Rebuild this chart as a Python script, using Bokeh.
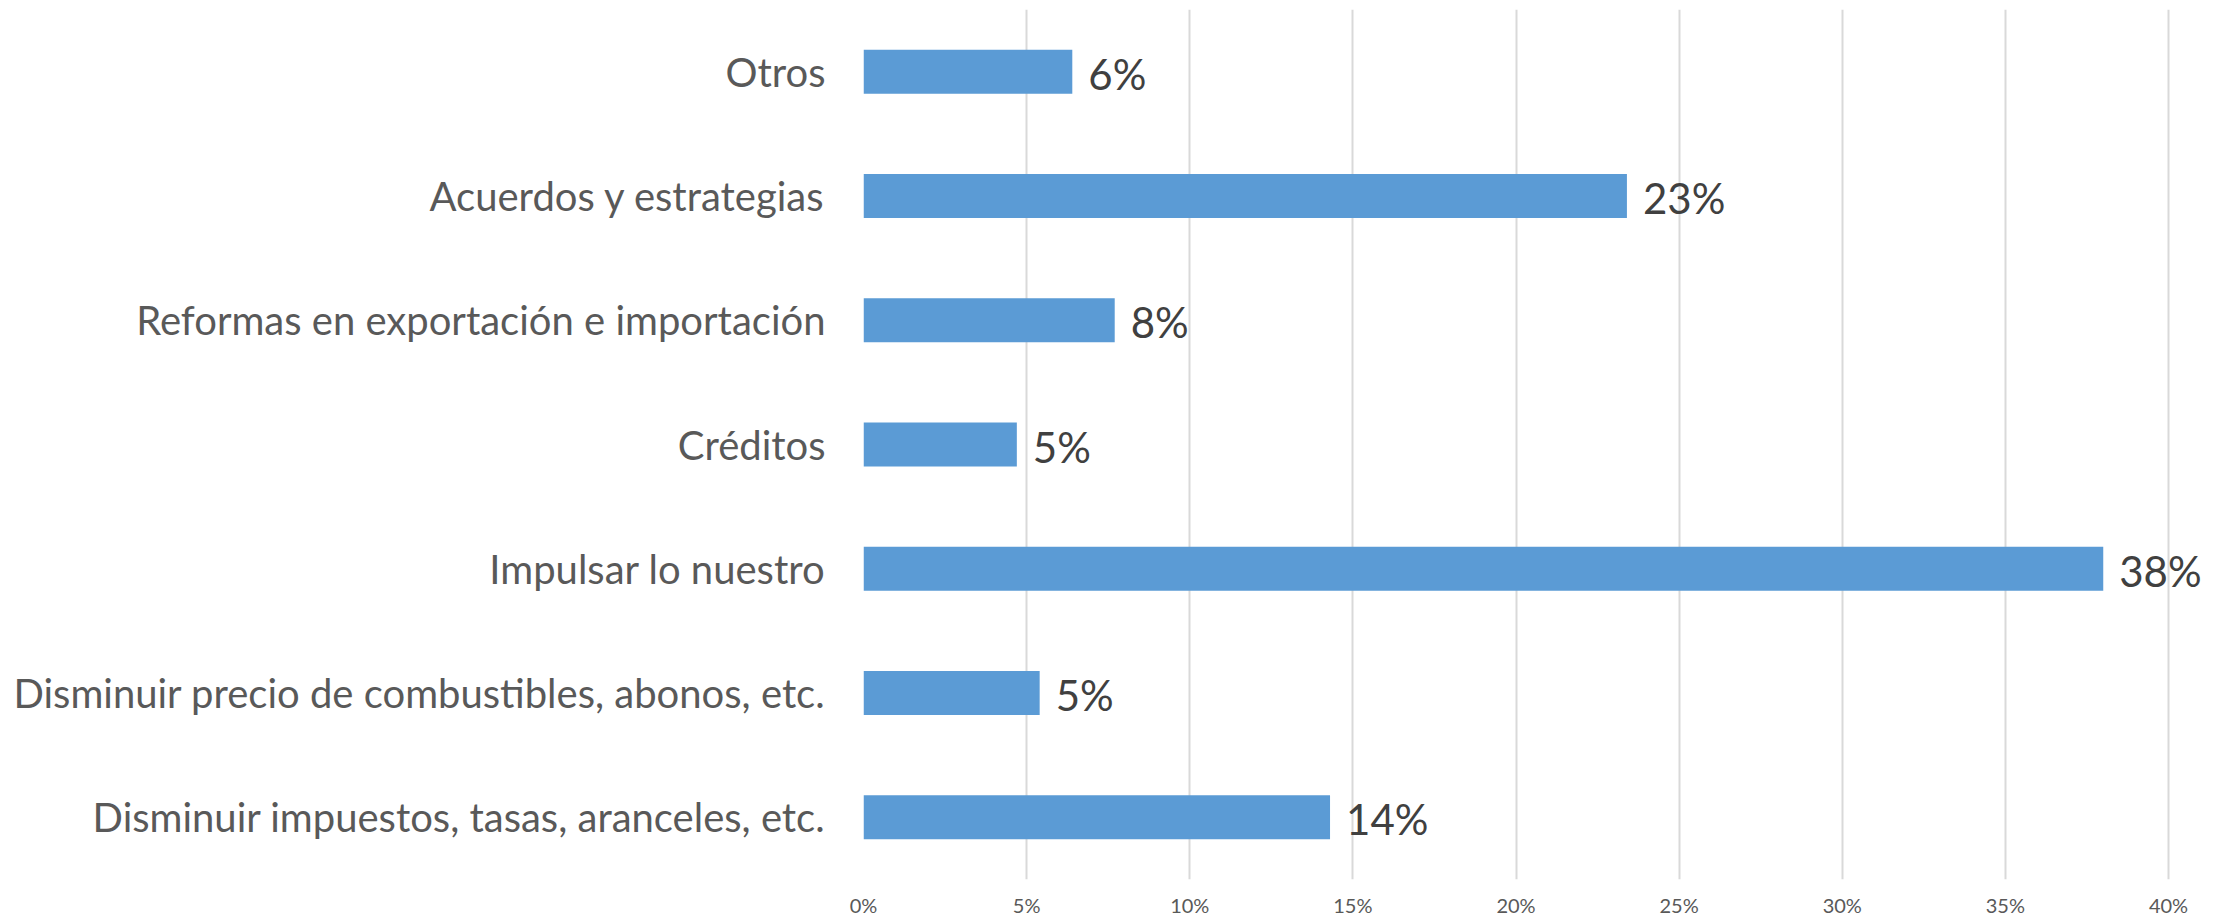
from bokeh.plotting import figure
from bokeh.models import ColumnDataSource, Range1d, FactorRange, FixedTicker, NumeralTickFormatter, LabelSet
from bokeh.core.properties import value
from bokeh.embed import file_html
from bokeh.resources import INLINE

# Data (bottom to top)
categories = [
    "Disminuir impuestos, tasas, aranceles, etc.",
    "Disminuir precio de combustibles, abonos, etc.",
    "Impulsar lo nuestro",
    "Créditos",
    "Reformas en exportación e importación",
    "Acuerdos y estrategias",
    "Otros",
]
values = [0.143, 0.054, 0.380, 0.047, 0.077, 0.234, 0.064]
value_labels = ["14%", "5%", "38%", "5%", "8%", "23%", "6%"]
x_ticks = [0.0, 0.05, 0.10, 0.15, 0.20, 0.25, 0.30, 0.35, 0.40]

FONT = "Lato"

source = ColumnDataSource(dict(cat=categories, val=values, lab=value_labels))

# frame: left 863 px, 0.40 at 2168 px, frame right at 2218 px
x_end = 0.40 * (2218 - 863) / (2168 - 863)

p = figure(
    width=2223, height=922,
    y_range=FactorRange(*categories, range_padding=0),
    x_range=Range1d(0, x_end),
    output_backend="svg", toolbar_location=None,
    min_border_left=863, min_border_right=5,
    min_border_top=9, min_border_bottom=43,
)
p.outline_line_color = None
p.background_fill_color = "white"
p.border_fill_color = "white"

p.hbar(y="cat", right="val", left=0, height=0.354, source=source,
       fill_color="#5B9BD5", line_color=None)

labels = LabelSet(x="val", y="cat", text="lab", source=source,
                  x_offset=16, y_offset=-2, text_baseline="middle", text_align="left",
                  text_font=value(FONT), text_font_size="42px", text_color="#404040")
p.add_layout(labels)

# grid
p.ygrid.grid_line_color = None
p.xgrid.grid_line_color = "#D9D9D9"
p.xgrid.grid_line_width = 2
p.xaxis.ticker = FixedTicker(ticks=x_ticks)
p.xaxis.formatter = NumeralTickFormatter(format="0%")

# x axis
p.xaxis.axis_line_color = None
p.xaxis.major_tick_line_color = None
p.xaxis.minor_tick_line_color = None
p.xaxis.major_tick_out = 0
p.xaxis.major_label_standoff = 13
p.xaxis.major_label_text_font = FONT
p.xaxis.major_label_text_font_size = "20px"
p.xaxis.major_label_text_color = "#595959"

# y axis
p.yaxis.axis_line_color = None
p.yaxis.major_tick_line_color = None
p.yaxis.minor_tick_line_color = None
p.yaxis.major_tick_out = 0
p.yaxis.major_label_standoff = 38
p.yaxis.major_label_text_font = FONT
p.yaxis.major_label_text_font_size = "40px"
p.yaxis.major_label_text_color = "#595959"

open("out.html", "w").write(file_html(p, INLINE))
